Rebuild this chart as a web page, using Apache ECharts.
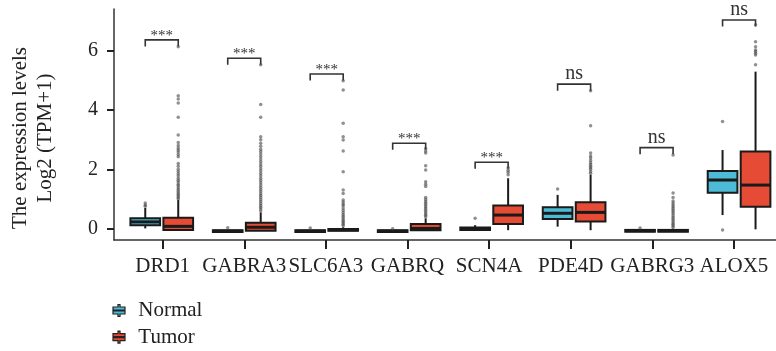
<!DOCTYPE html>
<html>
<head>
<meta charset="utf-8">
<script src="https://cdn.jsdelivr.net/npm/echarts@6/dist/echarts.min.js"></script>
<style>
  html, body { margin: 0; padding: 0; background: #fff; }
  #chart { width: 776px; height: 351px; }
</style>
</head>
<body>
<div id="chart"></div>
<script>
const genes = ['DRD1', 'GABRA3', 'SLC6A3', 'GABRQ', 'SCN4A', 'PDE4D', 'GABRG3', 'ALOX5'];
const yTicks = [0, 2, 4, 6];

// [lower whisker, Q1, median, Q3, upper whisker]
const normalBox = [
  [0.01, 0.12, 0.23, 0.35, 0.70],
  [-0.11, -0.11, -0.08, -0.05, -0.04],
  [-0.11, -0.11, -0.08, -0.05, -0.04],
  [-0.11, -0.11, -0.08, -0.05, -0.05],
  [-0.06, -0.04, 0.00, 0.04, 0.12],
  [0.07, 0.33, 0.52, 0.72, 1.14],
  [-0.10, -0.10, -0.07, -0.04, -0.04],
  [0.46, 1.21, 1.64, 1.94, 2.65]
];
const tumorBox = [
  [-0.04, -0.04, 0.08, 0.37, 0.97],
  [-0.07, -0.07, 0.05, 0.20, 0.55],
  [-0.07, -0.07, -0.04, -0.01, 0.05],
  [-0.05, -0.05, 0.01, 0.16, 0.35],
  [-0.05, 0.16, 0.46, 0.78, 1.70],
  [-0.05, 0.24, 0.55, 0.89, 1.82],
  [-0.10, -0.10, -0.07, -0.04, 0.00],
  [-0.02, 0.74, 1.47, 2.60, 5.29]
];

const normalOut = [
  [0.76, 0.80, 0.87],
  [0.03],
  [0.02],
  [0.00],
  [0.35],
  [1.34],
  [0.02],
  [-0.04, 3.61]
];
const tumorOut = [
  [1.00, 1.05, 1.10, 1.15, 1.20, 1.26, 1.32, 1.38, 1.45, 1.50, 1.57, 1.63, 1.70, 1.78, 1.85, 1.93,
   2.00, 2.10, 2.20, 2.42, 2.50, 2.58, 2.65, 2.72, 2.80, 2.90, 3.16, 3.75, 4.23, 4.37, 4.48, 6.13],
  [0.60, 0.66, 0.72, 0.78, 0.85, 0.92, 0.98, 1.05, 1.12, 1.18, 1.25, 1.32, 1.40, 1.47, 1.55, 1.62,
   1.70, 1.78, 1.86, 1.94, 2.02, 2.10, 2.18, 2.26, 2.35, 2.43, 2.52, 2.60, 2.68, 2.78, 2.88, 3.00,
   3.10, 3.75, 4.18, 5.52],
  [0.10, 0.15, 0.20, 0.25, 0.30, 0.36, 0.42, 0.48, 0.55, 0.62, 0.70, 0.78, 0.83, 0.90, 0.97, 1.19,
   1.30, 1.92, 2.62, 2.99, 3.10, 3.55, 4.67, 4.98],
  [0.40, 0.45, 0.50, 0.56, 0.62, 0.68, 0.74, 0.80, 0.86, 0.92, 0.98, 1.05, 1.42, 1.50, 1.58, 1.98,
   2.12, 2.55, 2.62, 2.70],
  [1.82, 1.90, 1.97, 2.05],
  [1.87, 1.93, 2.00, 2.05, 2.10, 2.16, 2.22, 2.30, 2.38, 2.45, 2.55, 3.47, 4.65],
  [0.05, 0.10, 0.15, 0.20, 0.26, 0.32, 0.38, 0.44, 0.50, 0.56, 0.62, 0.68, 0.74, 0.80, 0.87, 0.93,
   1.05, 1.20, 2.48],
  [5.52, 5.85, 5.91, 5.97, 6.02, 6.13, 6.30, 6.87]
];

const bracketTop = [6.36, 5.74, 5.21, 2.88, 2.24, 4.87, 2.73, 7.03];
const sigLabels = ['***', '***', '***', '***', '***', 'ns', 'ns', 'ns'];

const NORMAL = '#4DBBD5';
const TUMOR = '#E64B35';
const INK = '#1a1a1a';
const FONT = '"Liberation Serif", "Times New Roman", serif';
const DODGE = 0.2;
const BOX_W = 0.36;
const DROP = 0.22;
const ICON = 'path://M5,0L7,0L7,2.5L12,2.5L12,9.5L7,9.5L7,12L5,12L5,9.5L0,9.5L0,2.5L5,2.5Z' +
  'M0,5.5L12,5.5L12,6.5L0,6.5Z';

function boxData(list) {
  return list.map((b, i) => [i].concat(b));
}
function outData(list, side) {
  const out = [];
  list.forEach((vals, i) => vals.forEach(v => out.push([i + side * DODGE, v])));
  return out;
}

function boxRender(side) {
  return function (params, api) {
    const x = api.value(0) + side * DODGE;
    const w = api.size([BOX_W, 0])[0];
    const lo = api.coord([x, api.value(1)]);
    const q1 = api.coord([x, api.value(2)]);
    const md = api.coord([x, api.value(3)]);
    const q3 = api.coord([x, api.value(4)]);
    const hi = api.coord([x, api.value(5)]);
    return {
      type: 'group',
      children: [
        { type: 'line', shape: { x1: hi[0], y1: hi[1], x2: q3[0], y2: q3[1] }, style: { stroke: INK, lineWidth: 2 } },
        { type: 'line', shape: { x1: q1[0], y1: q1[1], x2: lo[0], y2: lo[1] }, style: { stroke: INK, lineWidth: 2 } },
        {
          type: 'rect',
          shape: { x: q3[0] - w / 2, y: q3[1], width: w, height: q1[1] - q3[1] },
          style: { fill: api.visual('color'), stroke: INK, lineWidth: 2 }
        },
        { type: 'line', shape: { x1: md[0] - w / 2, y1: md[1], x2: md[0] + w / 2, y2: md[1] }, style: { stroke: INK, lineWidth: 3 } }
      ]
    };
  };
}

function bracketRender(params, api) {
  const i = api.value(0);
  const top = api.value(1);
  const a = api.coord([i - DODGE, top - DROP]);
  const b = api.coord([i - DODGE, top]);
  const c = api.coord([i + DODGE, top]);
  const d = api.coord([i + DODGE, top - DROP]);
  const label = sigLabels[params.dataIndex];
  const stars = label === '***';
  return {
    type: 'group',
    children: [
      { type: 'polyline', shape: { points: [a, b, c, d] }, style: { stroke: '#333', lineWidth: 1.6, fill: null } },
      {
        type: 'text',
        style: {
          text: label,
          x: (b[0] + c[0]) / 2,
          y: b[1] - (stars ? 4 : 10),
          align: 'center',
          verticalAlign: 'middle',
          fontFamily: FONT,
          fontSize: stars ? 15 : 20,
          fill: '#333'
        }
      }
    ]
  };
}

const chart = echarts.init(document.getElementById('chart'));

chart.setOption({
  animation: false,
  backgroundColor: '#fff',
  grid: [
    { left: 113, right: 0, top: 9, bottom: 111 },
    { left: 121.9, right: 1.3, top: 9, bottom: 111 }
  ],
  xAxis: [
    {
      type: 'value', gridIndex: 0, min: -0.579, max: 7.448,
      axisLine: { show: true, onZero: false, lineStyle: { color: '#333', width: 1.5 } },
      axisTick: { show: false }, axisLabel: { show: false }, splitLine: { show: false }
    },
    {
      type: 'category', gridIndex: 1, data: genes, boundaryGap: true,
      axisLine: { show: false, onZero: false },
      axisTick: { show: true, alignWithLabel: true, length: 9, lineStyle: { color: '#222', width: 2 } },
      axisLabel: { interval: 0, margin: 16, fontFamily: FONT, fontSize: 21, color: '#222' },
      splitLine: { show: false }
    }
  ],
  yAxis: [
    {
      type: 'value', gridIndex: 0, min: -0.38, max: 7.4,
      name: 'The expression levels\nLog2 (TPM+1)',
      nameLocation: 'middle', nameRotate: 90, nameGap: 56,
      nameTextStyle: { fontFamily: FONT, fontSize: 21, color: '#222', lineHeight: 25, padding: [0, 27, 0, 0] },
      axisLine: { show: true, onZero: false, lineStyle: { color: '#333', width: 1.5 } },
      axisTick: { show: true, length: 7, customValues: yTicks, lineStyle: { color: '#222', width: 2 } },
      axisLabel: { customValues: yTicks, margin: 16, fontFamily: FONT, fontSize: 20, color: '#222' },
      splitLine: { show: false }
    },
    { type: 'value', gridIndex: 1, min: -0.38, max: 7.4, show: false }
  ],
  legend: {
    orient: 'vertical', left: 112.4, top: 300, padding: 0,
    itemWidth: 28.6, itemHeight: 12, itemGap: 5.6,
    selectedMode: false,
    textStyle: { fontFamily: FONT, fontSize: 21, lineHeight: 21, color: '#222' },
    data: [
      { name: 'Normal', icon: ICON, itemStyle: { color: NORMAL, borderColor: '#222', borderWidth: 1.2 } },
      { name: 'Tumor', icon: ICON, itemStyle: { color: TUMOR, borderColor: '#222', borderWidth: 1.2 } }
    ]
  },
  series: [
    {
      name: 'Normal', type: 'custom', xAxisIndex: 0, yAxisIndex: 0,
      itemStyle: { color: NORMAL },
      renderItem: boxRender(-1), data: boxData(normalBox),
      encode: { x: 0, y: [1, 2, 3, 4, 5] }
    },
    {
      name: 'Tumor', type: 'custom', xAxisIndex: 0, yAxisIndex: 0,
      itemStyle: { color: TUMOR },
      renderItem: boxRender(1), data: boxData(tumorBox),
      encode: { x: 0, y: [1, 2, 3, 4, 5] }
    },
    {
      name: 'Normal', type: 'scatter', xAxisIndex: 0, yAxisIndex: 0,
      symbolSize: 3.5, itemStyle: { color: 'rgba(70,70,70,0.75)' },
      data: outData(normalOut, -1)
    },
    {
      name: 'Tumor', type: 'scatter', xAxisIndex: 0, yAxisIndex: 0,
      symbolSize: 3.5, itemStyle: { color: 'rgba(70,70,70,0.75)' },
      data: outData(tumorOut, 1)
    },
    {
      name: 'sig', type: 'custom', xAxisIndex: 0, yAxisIndex: 0,
      renderItem: bracketRender,
      data: bracketTop.map((t, i) => [i, t]),
      encode: { x: 0, y: 1 }
    }
  ]
});
</script>
</body>
</html>
